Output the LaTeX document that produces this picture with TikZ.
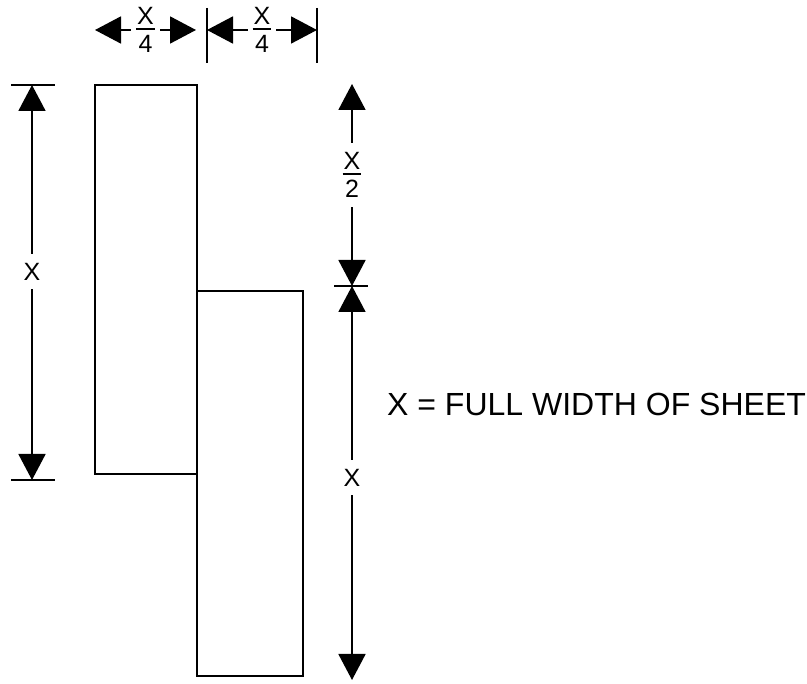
\documentclass[tikz,border=0pt]{standalone}
\usepackage{fontspec}
\setmainfont{Liberation Sans}
\usepackage{tikz}
\usetikzlibrary{arrows.meta, positioning}
\newcommand{\dimfrac}[2]{\vbox{\halign{\hfil##\hfil\cr \kern1pt#1\kern1pt\cr\noalign{\kern4pt\hrule height 1.8pt\kern5.5pt}#2\cr}}}
\begin{document}
\begin{tikzpicture}[x=1pt, y=-1pt,
  sheet/.style={draw, line width=1.9pt, inner sep=0pt, outer sep=0pt},
  dimline/.style={{Triangle[length=26pt,width=27pt]}-{Triangle[length=26pt,width=27pt]}, line width=1.8pt},
  tickline/.style={line width=1.8pt},
  dimlabel/.style={fill=white, inner xsep=5pt, inner ysep=9pt, font=\fontsize{25}{29}\selectfont}]
  \useasboundingbox (0,0) rectangle (807,684);
  % the two sheets
  \node[sheet, minimum width=102pt, minimum height=389pt] (LeftSheet) at (146,279.5) {};
  \node[sheet, minimum width=106pt, minimum height=385pt] (RightSheet) at (250,483.5) {};
  % end points of the dimensions
  \coordinate (TopA) at (95,30);
  \coordinate (TopB) at (196,30);
  \coordinate (TopC) at (207,30);
  \coordinate (TopD) at (317,30);
  \coordinate (LeftUp) at (32,85);
  \coordinate (LeftDown) at (32,480);
  \coordinate (RightUp) at (352,84);
  \coordinate (RightMid) at (352,286);
  \coordinate (RightDown) at (352,680);
  % tick lines
  \draw[tickline] (207,8) coordinate (TickCa) -- (207,63) coordinate (TickCb);
  \draw[tickline] (317,8) coordinate (TickDa) -- (317,63) coordinate (TickDb);
  \draw[tickline] (11,85) coordinate (TickUa) -- (55,85) coordinate (TickUb);
  \draw[tickline] (11,480) coordinate (TickLa) -- (55,480) coordinate (TickLb);
  \draw[tickline] (334,286) coordinate (TickMa) -- (368,286) coordinate (TickMb);
  % dimensions
  \draw[dimline] (TopA) -- node[dimlabel, inner ysep=0pt] (QuarterA) {\dimfrac{X}{4}} (TopB);
  \draw[dimline] (TopC) -- node[dimlabel, inner ysep=0pt] (QuarterB) {\dimfrac{X}{4}} (TopD);
  \draw[dimline] (LeftUp) -- node[dimlabel, pos=0.472] (LeftX) {X} (LeftDown);
  \draw[dimline] (RightUp) -- node[dimlabel, pos=0.45] (HalfX) {\dimfrac{X}{2}} (RightMid);
  \draw[dimline] (RightMid) -- node[dimlabel, pos=0.487] (LowerX) {X} (RightDown);
  % note
  \node[anchor=base west, inner sep=0pt, font=\fontsize{32}{38}\selectfont] (Note) at (387,416) {X = FULL WIDTH OF SHEET};
\end{tikzpicture}
\end{document}
